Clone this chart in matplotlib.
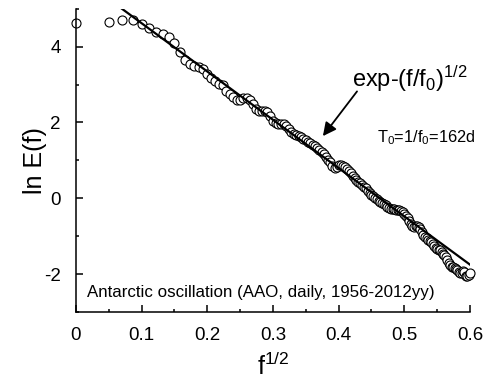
import matplotlib
matplotlib.use("Agg")
import matplotlib.pyplot as plt
from matplotlib.ticker import MultipleLocator, FuncFormatter

plt.rcParams['font.family'] = ['Liberation Sans', 'DejaVu Sans']
plt.rcParams['mathtext.fontset'] = 'custom'
plt.rcParams['mathtext.rm'] = 'Liberation Sans'
plt.rcParams['mathtext.it'] = 'Liberation Sans'
plt.rcParams['axes.unicode_minus'] = False

# f^(1/2) grid of the spectrum
sqrt_f = [0.0, 0.05, 0.0707, 0.0866, 0.1, 0.1118, 0.1225, 0.1323, 0.1414, 0.15,
          0.1581, 0.1658, 0.1732, 0.1803, 0.1871, 0.1936, 0.2, 0.2062, 0.2121, 0.2179,
          0.2236, 0.2291, 0.2345, 0.2398, 0.2449, 0.25, 0.255, 0.2598, 0.2646, 0.2693,
          0.2739, 0.2784, 0.2828, 0.2872, 0.2915, 0.2958, 0.3, 0.3041, 0.3082, 0.3122,
          0.3162, 0.3202, 0.324, 0.3279, 0.3317, 0.3354, 0.3391, 0.3428, 0.3464, 0.35,
          0.3536, 0.3571, 0.3606, 0.364, 0.3674, 0.3708, 0.3742, 0.3775, 0.3808, 0.3841,
          0.3873, 0.3905, 0.3937, 0.3969, 0.4, 0.4031, 0.4062, 0.4093, 0.4123, 0.4153,
          0.4183, 0.4213, 0.4243, 0.4272, 0.4301, 0.433, 0.4359, 0.4387, 0.4416, 0.4444,
          0.4472, 0.45, 0.4528, 0.4555, 0.4583, 0.461, 0.4637, 0.4664, 0.469, 0.4717,
          0.4743, 0.477, 0.4796, 0.4822, 0.4848, 0.4873, 0.4899, 0.4924, 0.495, 0.4975,
          0.5, 0.5025, 0.505, 0.5074, 0.5099, 0.5123, 0.5148, 0.5172, 0.5196, 0.522,
          0.5244, 0.5268, 0.5292, 0.5315, 0.5339, 0.5362, 0.5385, 0.5408, 0.5431, 0.5454,
          0.5477, 0.55, 0.5523, 0.5545, 0.5568, 0.559, 0.5612, 0.5635, 0.5657, 0.5679,
          0.5701, 0.5723, 0.5745, 0.5766, 0.5788, 0.5809, 0.5831, 0.5852, 0.5874, 0.5895,
          0.5916, 0.5937, 0.5958, 0.5979, 0.6]

# ln E(f)
ln_E = [4.62, 4.65, 4.71, 4.70, 4.60, 4.48, 4.39, 4.34, 4.26, 4.10,
        3.86, 3.65, 3.53, 3.48, 3.47, 3.41, 3.28, 3.17, 3.09, 3.02,
        2.98, 2.84, 2.74, 2.67, 2.60, 2.60, 2.65, 2.64, 2.60, 2.50,
        2.36, 2.31, 2.30, 2.31, 2.28, 2.18, 2.04, 1.99, 1.97, 1.96,
        1.95, 1.92, 1.84, 1.75, 1.69, 1.66, 1.64, 1.61, 1.56, 1.53,
        1.49, 1.45, 1.41, 1.37, 1.32, 1.28, 1.23, 1.17, 1.09, 1.02,
        0.97, 0.86, 0.80, 0.83, 0.88, 0.89, 0.86, 0.83, 0.78, 0.72,
        0.68, 0.60, 0.54, 0.48, 0.44, 0.40, 0.36, 0.31, 0.26, 0.20,
        0.14, 0.09, 0.05, 0.01, -0.03, -0.07, -0.10, -0.13, -0.16, -0.19,
        -0.22, -0.25, -0.27, -0.28, -0.29, -0.30, -0.31, -0.32, -0.34, -0.37,
        -0.41, -0.46, -0.53, -0.60, -0.67, -0.73, -0.75, -0.74, -0.74, -0.76,
        -0.80, -0.90, -0.98, -1.03, -1.06, -1.09, -1.12, -1.16, -1.21, -1.26,
        -1.32, -1.35, -1.36, -1.37, -1.41, -1.46, -1.50, -1.56, -1.63, -1.70,
        -1.76, -1.80, -1.82, -1.84, -1.86, -1.90, -1.95, -1.98, -1.96, -1.92,
        -1.95, -2.04, -2.06, -2.02, -1.97]

# stretched-exponential fit, T0 = 1/f0 = 162 d
fit_x = [0.07, 0.6]
fit_y = [5.0, -1.75]

fig = plt.figure(figsize=(4.84, 3.83), dpi=100)
ax = fig.add_axes([0.157, 0.1854, 0.814, 0.7917])

ax.plot(sqrt_f, ln_E, 'o', mfc='white', mec='black', mew=0.8, ms=6.5, clip_on=False)
ax.plot(fit_x, fit_y, '-', color='black', lw=1.6)

ax.set_xlim(0, 0.6)
ax.set_ylim(-3, 5)
ax.xaxis.set_major_locator(MultipleLocator(0.1))
ax.xaxis.set_minor_locator(MultipleLocator(0.05))
ax.yaxis.set_major_locator(MultipleLocator(2))
ax.yaxis.set_minor_locator(MultipleLocator(1))
ax.xaxis.set_major_formatter(FuncFormatter(lambda v, p: '0' if abs(v) < 1e-9 else f'{v:.1f}'))

for s in ['top', 'right']:
    ax.spines[s].set_visible(False)
for s in ['left', 'bottom']:
    ax.spines[s].set_linewidth(1.1)
ax.tick_params(which='both', direction='in', width=1.1, labelsize=13.5)
ax.tick_params(which='major', length=5)
ax.tick_params(which='minor', length=2.5)
ax.tick_params(axis='x', pad=11)
ax.tick_params(axis='y', pad=11)

ax.set_xlabel('f$^{1/2}$', fontsize=18, labelpad=6)
ax.set_ylabel('ln E(f)', fontsize=18, labelpad=-2)

ax.text(0.420, 3.14, 'exp-(f/f$_0$)$^{1/2}$', fontsize=17, ha='left', va='center')
ax.annotate('', xy=(0.376, 1.64), xytext=(0.428, 2.82),
            arrowprops=dict(arrowstyle='-|>', color='black', lw=1.3,
                            mutation_scale=20, shrinkA=0, shrinkB=0))
ax.text(0.458, 1.60, 'T$_0$=1/f$_0$=162d', fontsize=11.8, ha='left', va='center')
ax.text(0.017, -2.49, 'Antarctic oscillation (AAO, daily, 1956-2012yy)',
        fontsize=12.2, ha='left', va='center')

fig.savefig('out.png', dpi=100)
